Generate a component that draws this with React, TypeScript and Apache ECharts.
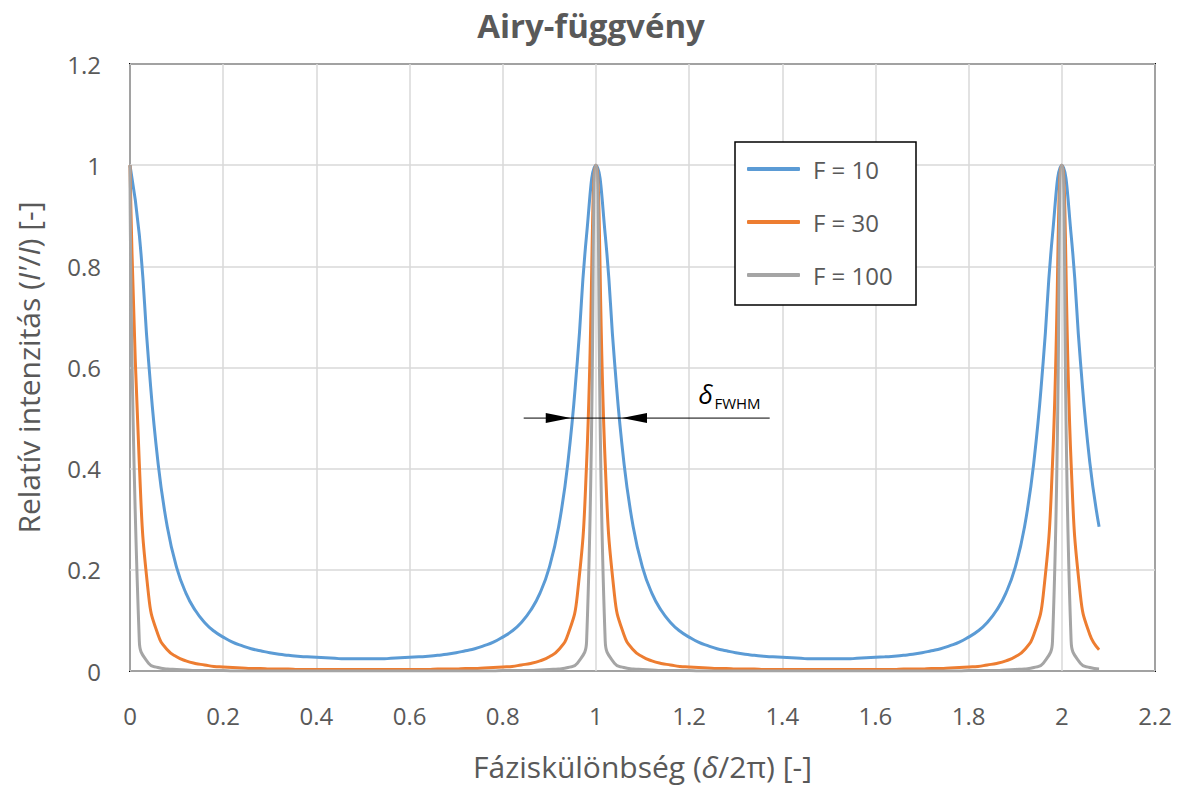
import React, { useEffect, useRef } from 'react';
import * as echarts from 'echarts';

// x = δ/2π sampled every 0.02
const xs = [
  0, 0.02, 0.04, 0.06, 0.08, 0.1, 0.12, 0.14, 0.16, 0.18, 0.2, 0.22, 0.24, 0.26, 0.28, 0.3, 0.32, 0.34, 0.36, 0.38, 0.4, 0.42, 0.44, 0.46, 0.48, 0.5,
  0.52, 0.54, 0.56, 0.58, 0.6, 0.62, 0.64, 0.66, 0.68, 0.7, 0.72, 0.74, 0.76, 0.78, 0.8, 0.82, 0.84, 0.86, 0.88, 0.9, 0.92, 0.94, 0.96, 0.98, 1,
  1.02, 1.04, 1.06, 1.08, 1.1, 1.12, 1.14, 1.16, 1.18, 1.2, 1.22, 1.24, 1.26, 1.28, 1.3, 1.32, 1.34, 1.36, 1.38, 1.4, 1.42, 1.44, 1.46, 1.48, 1.5,
  1.52, 1.54, 1.56, 1.58, 1.6, 1.62, 1.64, 1.66, 1.68, 1.7, 1.72, 1.74, 1.76, 1.78, 1.8, 1.82, 1.84, 1.86, 1.88, 1.9, 1.92, 1.94, 1.96, 1.98, 2,
  2.02, 2.04, 2.06, 2.08,
];

const f10 = [
  1, 0.862, 0.611, 0.413, 0.285, 0.205, 0.154, 0.12, 0.096, 0.079, 0.067, 0.057, 0.05, 0.044, 0.04, 0.036, 0.033, 0.031, 0.029, 0.028, 0.027, 0.026, 0.025, 0.024, 0.024, 0.024,
  0.024, 0.024, 0.025, 0.026, 0.027, 0.028, 0.029, 0.031, 0.033, 0.036, 0.04, 0.044, 0.05, 0.057, 0.067, 0.079, 0.096, 0.12, 0.154, 0.205, 0.285, 0.413, 0.611, 0.862, 1,
  0.862, 0.611, 0.413, 0.285, 0.205, 0.154, 0.12, 0.096, 0.079, 0.067, 0.057, 0.05, 0.044, 0.04, 0.036, 0.033, 0.031, 0.029, 0.028, 0.027, 0.026, 0.025, 0.024, 0.024, 0.024,
  0.024, 0.024, 0.025, 0.026, 0.027, 0.028, 0.029, 0.031, 0.033, 0.036, 0.04, 0.044, 0.05, 0.057, 0.067, 0.079, 0.096, 0.12, 0.154, 0.205, 0.285, 0.413, 0.611, 0.862, 1,
  0.862, 0.611, 0.413, 0.285,
];

const f30 = [
  1, 0.41, 0.149, 0.072, 0.042, 0.028, 0.02, 0.015, 0.012, 0.009, 0.008, 0.007, 0.006, 0.005, 0.005, 0.004, 0.004, 0.004, 0.003, 0.003, 0.003, 0.003, 0.003, 0.003, 0.003, 0.003,
  0.003, 0.003, 0.003, 0.003, 0.003, 0.003, 0.003, 0.004, 0.004, 0.004, 0.005, 0.005, 0.006, 0.007, 0.008, 0.009, 0.012, 0.015, 0.02, 0.028, 0.042, 0.072, 0.149, 0.41, 1,
  0.41, 0.149, 0.072, 0.042, 0.028, 0.02, 0.015, 0.012, 0.009, 0.008, 0.007, 0.006, 0.005, 0.005, 0.004, 0.004, 0.004, 0.003, 0.003, 0.003, 0.003, 0.003, 0.003, 0.003, 0.003,
  0.003, 0.003, 0.003, 0.003, 0.003, 0.003, 0.003, 0.004, 0.004, 0.004, 0.005, 0.005, 0.006, 0.007, 0.008, 0.009, 0.012, 0.015, 0.02, 0.028, 0.042, 0.072, 0.149, 0.41, 1,
  0.41, 0.149, 0.072, 0.042,
];

const f100 = [
  1, 0.059, 0.015, 0.007, 0.004, 0.003, 0.002, 0.001, 0.001, 0.001, 0.001, 0, 0, 0, 0, 0, 0, 0, 0, 0, 0, 0, 0, 0, 0, 0,
  0, 0, 0, 0, 0, 0, 0, 0, 0, 0, 0, 0, 0, 0, 0.001, 0.001, 0.001, 0.001, 0.002, 0.003, 0.004, 0.007, 0.015, 0.059, 1,
  0.059, 0.015, 0.007, 0.004, 0.003, 0.002, 0.001, 0.001, 0.001, 0.001, 0, 0, 0, 0, 0, 0, 0, 0, 0, 0, 0, 0, 0, 0, 0,
  0, 0, 0, 0, 0, 0, 0, 0, 0, 0, 0, 0, 0, 0, 0.001, 0.001, 0.001, 0.001, 0.002, 0.003, 0.004, 0.007, 0.015, 0.059, 1,
  0.059, 0.015, 0.007, 0.004,
];

const seriesNames = ['F = 10', 'F = 30', 'F = 100'];
const xTickLabels = ['0', '0.2', '0.4', '0.6', '0.8', '1', '1.2', '1.4', '1.6', '1.8', '2', '2.2'];
const yTickLabels = ['0', '0.2', '0.4', '0.6', '0.8', '1', '1.2'];

// FWHM marker (data coordinates)
const fwhmLevel = 0.5;
const fwhmLine = [0.845, 1.373];
const fwhmTips = [0.946, 1.056];
const fwhmLabelX = 1.22;

export default function App() {
  const ref = useRef<HTMLDivElement>(null);

  useEffect(() => {
    const chart = echarts.init(ref.current as HTMLDivElement, null, { renderer: 'svg' });
    const font = 'Open Sans';
    const txt = '#595959';
    const colors = ['#5B9BD5', '#ED7D31', '#A5A5A5'];
    const data = [f10, f30, f100];

    chart.setOption({
      animation: false,
      backgroundColor: '#ffffff',
      title: {
        text: 'Airy-függvény',
        left: 'center',
        top: 4,
        textStyle: { fontFamily: font, fontWeight: 'bold', fontSize: 33, color: txt },
      },
      grid: {
        left: 130,
        right: 27,
        top: 64,
        bottom: 120,
        show: true,
        borderColor: '#000000',
        borderWidth: 2,
        backgroundColor: 'transparent',
      },
      legend: {
        orient: 'vertical',
        left: 747,
        top: 157,
        padding: 0,
        icon: 'roundRect',
        itemWidth: 53,
        itemHeight: 4,
        itemGap: 29,
        selectedMode: false,
        textStyle: { fontFamily: font, fontSize: 24, color: txt, padding: [0, 0, 0, 8] },
        data: seriesNames,
        z: 20,
      },
      xAxis: {
        type: 'value',
        min: 0,
        max: 2.2,
        interval: 0.2,
        axisLine: { show: false },
        axisTick: { show: false },
        splitLine: { show: true, lineStyle: { color: '#D9D9D9', width: 1.5 } },
        axisLabel: {
          margin: 32,
          fontFamily: font,
          fontSize: 24,
          color: txt,
          formatter: (v: number) => xTickLabels[Math.round(v / 0.2)] ?? '',
        },
        name: 'Fáziskülönbség ({i|δ}/2π) [-]',
        nameLocation: 'middle',
        nameGap: 80,
        nameTextStyle: {
          fontFamily: font,
          fontSize: 30,
          color: txt,
          rich: { i: { fontFamily: font, fontSize: 30, color: txt, fontStyle: 'italic' } },
        },
      },
      yAxis: {
        type: 'value',
        min: 0,
        max: 1.2,
        interval: 0.2,
        axisLine: { show: false },
        axisTick: { show: false },
        splitLine: { show: true, lineStyle: { color: '#D9D9D9', width: 1.5 } },
        axisLabel: {
          margin: 29,
          fontFamily: font,
          fontSize: 24,
          color: txt,
          formatter: (v: number) => yTickLabels[Math.round(v / 0.2)] ?? '',
        },
        name: "Relatív intenzitás ({i|I'}/{i|I}) [-]",
        nameLocation: 'middle',
        nameGap: 87,
        nameRotate: 90,
        nameTextStyle: {
          fontFamily: font,
          fontSize: 30,
          color: txt,
          rich: { i: { fontFamily: font, fontSize: 30, color: txt, fontStyle: 'italic' } },
        },
      },
      series: seriesNames.map((name, k) => ({
        type: 'line',
        name,
        data: xs.map((x, i) => [x, data[k][i]]),
        symbol: 'none',
        smooth: 0.5,
        lineStyle: { width: 3, color: colors[k] },
        itemStyle: { color: colors[k] },
        z: 2 + k,
      })),
    });

    const toPx = (p: number[]) => chart.convertToPixel({ gridIndex: 0 }, p) as number[];
    const [xa, ya] = toPx([fwhmLine[0], fwhmLevel]);
    const [xb] = toPx([fwhmLine[1], fwhmLevel]);
    const [tl] = toPx([fwhmTips[0], fwhmLevel]);
    const [tr] = toPx([fwhmTips[1], fwhmLevel]);
    const [lx] = toPx([fwhmLabelX, fwhmLevel]);

    chart.setOption({
      graphic: [
        {
          type: 'rect',
          shape: { x: 735, y: 142, width: 181, height: 163 },
          style: { fill: '#ffffff', stroke: '#000000', lineWidth: 1.5 },
          z: 10,
        },
        {
          type: 'line',
          shape: { x1: xa, y1: ya, x2: xb, y2: ya },
          style: { stroke: '#000000', lineWidth: 1 },
          z: 10,
        },
        {
          type: 'polygon',
          shape: { points: [[tl, ya], [tl - 25, ya - 5], [tl - 25, ya + 5]] },
          style: { fill: '#000000' },
          z: 10,
        },
        {
          type: 'polygon',
          shape: { points: [[tr, ya], [tr + 25, ya - 5], [tr + 25, ya + 5]] },
          style: { fill: '#000000' },
          z: 10,
        },
        {
          type: 'text',
          x: lx,
          y: ya - 24,
          style: {
            text: 'δ',
            fontFamily: font,
            fontStyle: 'italic',
            fontSize: 26,
            fill: '#000000',
            align: 'left',
            verticalAlign: 'middle',
          },
          z: 10,
        },
        {
          type: 'text',
          x: lx + 16,
          y: ya - 15,
          style: {
            text: 'FWHM',
            fontFamily: font,
            fontSize: 15,
            fill: '#000000',
            align: 'left',
            verticalAlign: 'middle',
          },
          z: 10,
        },
      ],
    });

    return () => chart.dispose();
  }, []);

  return (
    <div
      ref={ref}
      style={{ position: 'absolute', left: 0, top: 0, width: 1182, height: 791, background: '#fff' }}
    />
  );
}
